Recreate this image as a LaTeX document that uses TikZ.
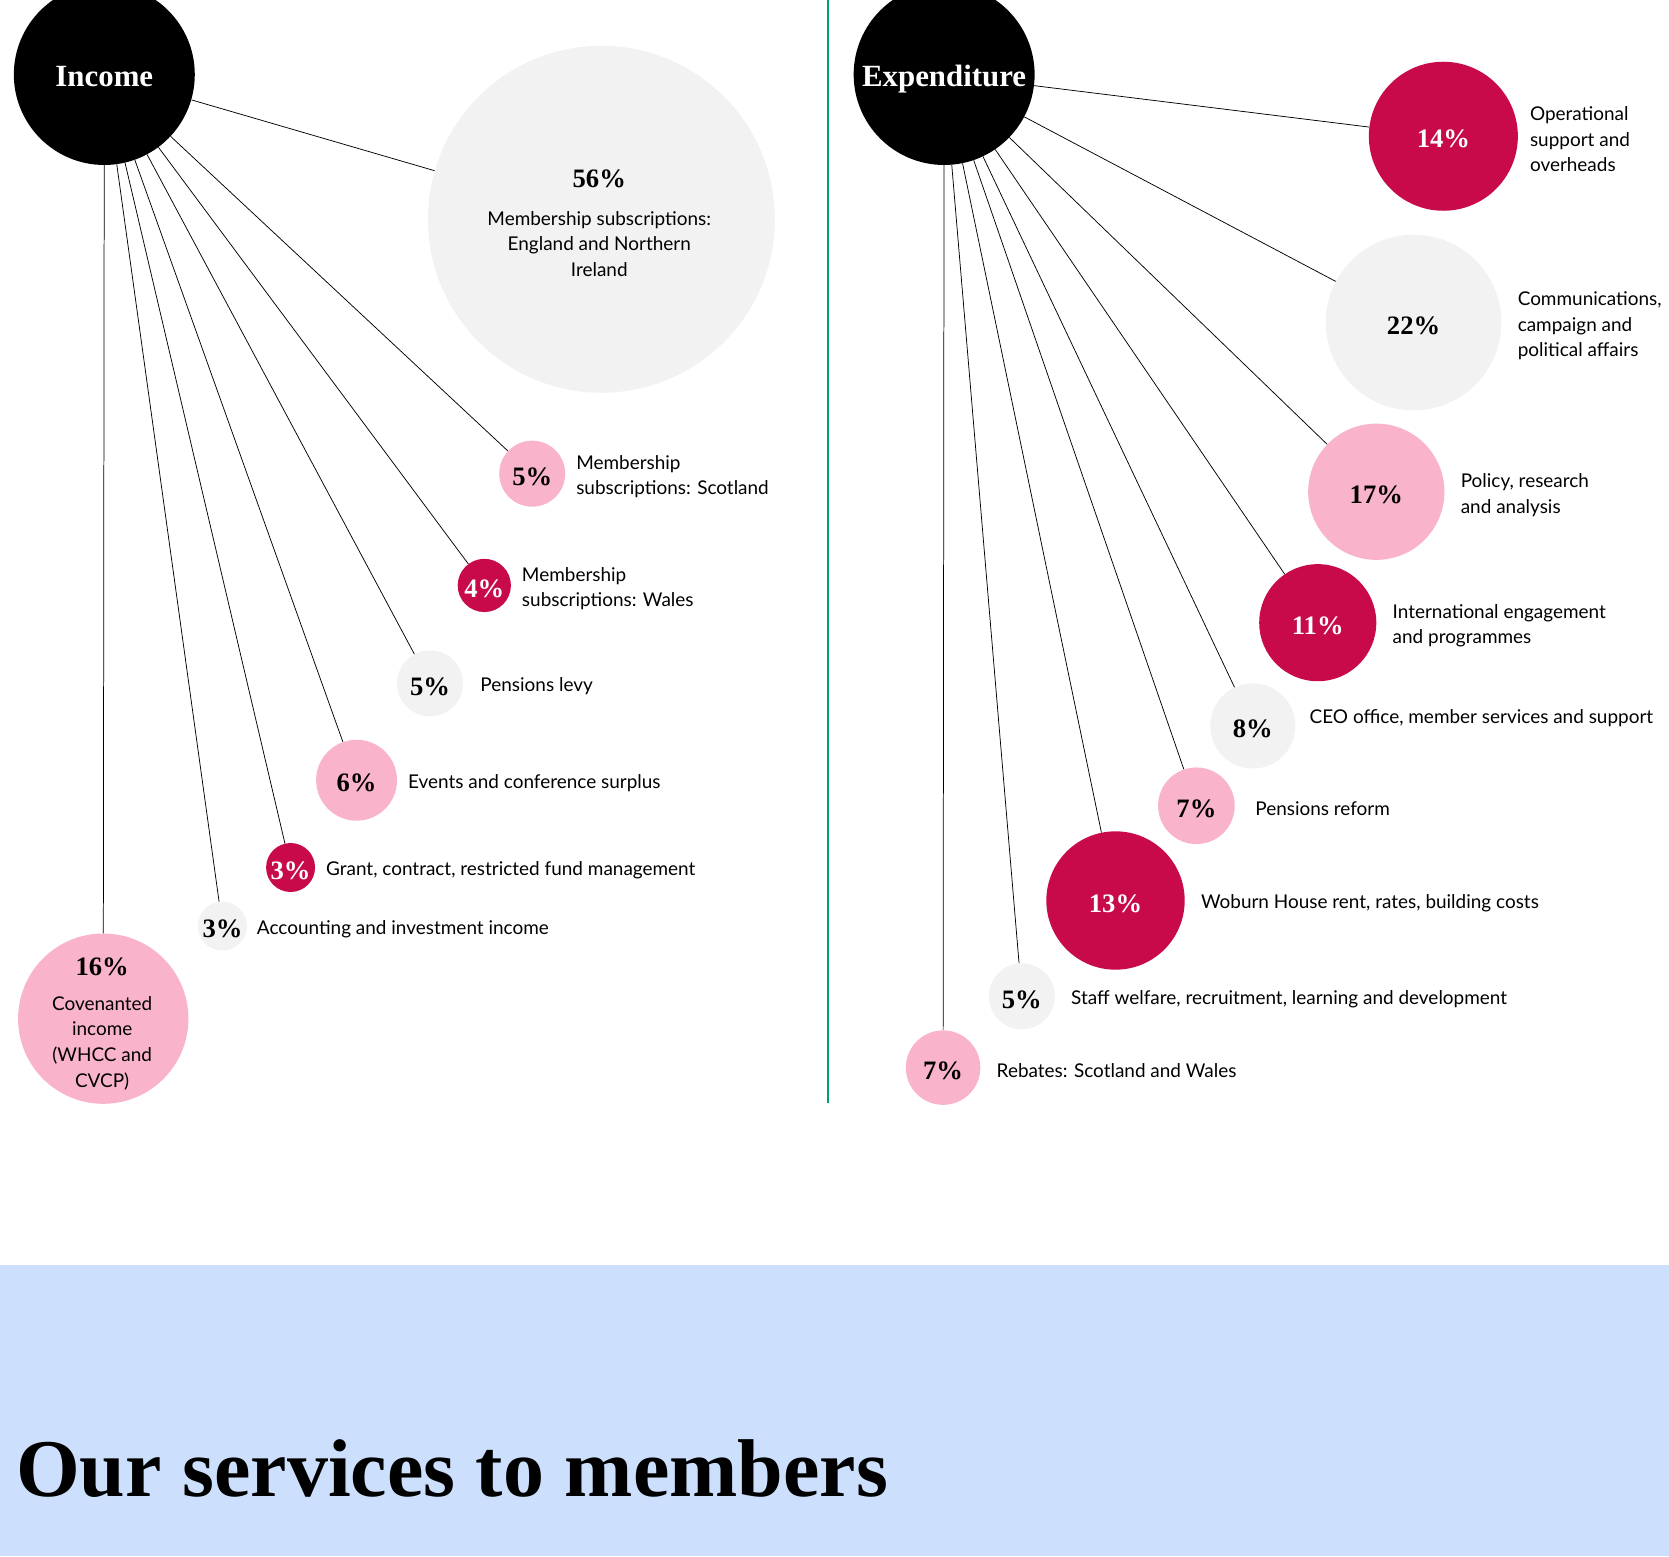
\documentclass[tikz,border=0pt]{standalone}
\usepackage{fontspec}
\setmainfont{Liberation Serif}
\newfontfamily\lblfont{Lato}
\usetikzlibrary{positioning}
\definecolor{crimson}{HTML}{C8094A}
\definecolor{pinky}{HTML}{F9B3CB}
\definecolor{pale}{HTML}{F2F2F2}
\definecolor{bandblue}{HTML}{CCE0FD}
\definecolor{divgreen}{HTML}{00A06E}
\begin{document}
\begin{tikzpicture}[x=1pt, y=-1pt,
    bub/.style={circle, inner sep=0pt, minimum size=#1, text height=22pt, text depth=0pt, font=\fontsize{25}{25}\selectfont\bfseries},
    hub/.style={circle, fill=black, text=white, inner sep=0pt, minimum size=170pt, text height=23pt, text depth=0pt, font=\fontsize{29}{29}\selectfont\bfseries},
    lbl/.style={align=left, inner sep=0pt, yshift=-3pt, font=\lblfont\fontsize{17.8}{24}\selectfont},
    link/.style={line width=0.7pt}]
                \useasboundingbox (0,0) rectangle (1568,1462);
                % band and divider
                \fill [bandblue] (0,1188) rectangle (1568,1462);
                \draw [divgreen, line width=1.3pt] (778,0)--(778,1036);
                \node [anchor=base west, inner sep=0pt, font=\fontsize{77}{77}\selectfont\bfseries] (title) at (15,1406) {Our services to members};
                % income
                \node [hub] (inc) at (98,70) {Income};
                \node [bub=326pt, fill=pale] (mse) at (565,206) {};
                \node [bub=62pt, fill=pinky] (msc) at (500,445) {5\%};
                \node [bub=50pt, fill=crimson, text=white] (mwa) at (455,550) {4\%};
                \node [bub=62pt, fill=pale] (plevy) at (404,642) {5\%};
                \node [bub=76pt, fill=pinky] (events) at (335,733) {6\%};
                \node [bub=46pt, fill=crimson, text=white] (grant) at (273,815) {3\%};
                \node [bub=46pt, fill=pale] (acct) at (209,870) {3\%};
                \node [bub=160pt, fill=pinky] (cov) at (97,957) {};
                \foreach \b in {mse,msc,mwa,plevy,events,grant,acct,cov}
                    \draw [link] (inc)--(\b);
                \node [bub=0pt] (mse-p) at (563,165) {56\%};
                \node [lbl, align=center] (mse-l) at (563,226) {Membership subscriptions:\\England and Northern\\Ireland};
                \node [bub=0pt] (cov-p) at (96,905) {16\%};
                \node [lbl, align=center] (cov-l) at (96,977) {Covenanted\\income\\(WHCC and\\CVCP)};
                \node [lbl, right=10pt of msc] (msc-l) {Membership\\subscriptions: Scotland};
                \node [lbl, right=10pt of mwa] (mwa-l) {Membership\\subscriptions: Wales};
                \node [lbl, right=16pt of plevy] (plevy-l) {Pensions levy};
                \node [lbl, right=10pt of events] (events-l) {Events and conference surplus};
                \node [lbl, right=10pt of grant] (grant-l) {Grant, contract, restricted fund management};
                \node [lbl, right=9pt of acct] (acct-l) {Accounting and investment income};
                % expenditure
                \node [hub] (exp) at (887,70) {Expenditure};
                \node [bub=140pt, fill=crimson, text=white] (ops) at (1356,128) {14\%};
                \node [bub=165pt, fill=pale] (comms) at (1328,303) {22\%};
                \node [bub=128pt, fill=pinky] (policy) at (1293,462) {17\%};
                \node [bub=110pt, fill=crimson, text=white] (intl) at (1238,585) {11\%};
                \node [bub=80pt, fill=pale] (ceo) at (1177,682) {8\%};
                \node [bub=72pt, fill=pinky] (pref) at (1124,757) {7\%};
                \node [bub=130pt, fill=crimson, text=white] (woburn) at (1048,846) {13\%};
                \node [bub=62pt, fill=pale] (staff) at (960,936) {5\%};
                \node [bub=70pt, fill=pinky] (rebate) at (886,1003) {7\%};
                \foreach \b in {ops,comms,policy,intl,ceo,pref,woburn,staff,rebate}
                    \draw [link] (exp)--(\b);
                \node [lbl, right=11pt of ops] (ops-l) {Operational\\support and\\overheads};
                \node [lbl, right=15pt of comms] (comms-l) {Communications,\\campaign and\\political affairs};
                \node [lbl, right=15pt of policy] (policy-l) {Policy, research\\and analysis};
                \node [lbl, right=15pt of intl] (intl-l) {International engagement\\and programmes};
                \node [lbl, right=13pt of ceo, yshift=10pt] (ceo-l) {CEO office, member services and support};
                \node [lbl, right=19pt of pref] (pref-l) {Pensions reform};
                \node [lbl, right=15pt of woburn] (woburn-l) {Woburn House rent, rates, building costs};
                \node [lbl, right=15pt of staff] (staff-l) {Staff welfare, recruitment, learning and development};
                \node [lbl, right=15pt of rebate] (rebate-l) {Rebates: Scotland and Wales};
\end{tikzpicture}
\end{document}
